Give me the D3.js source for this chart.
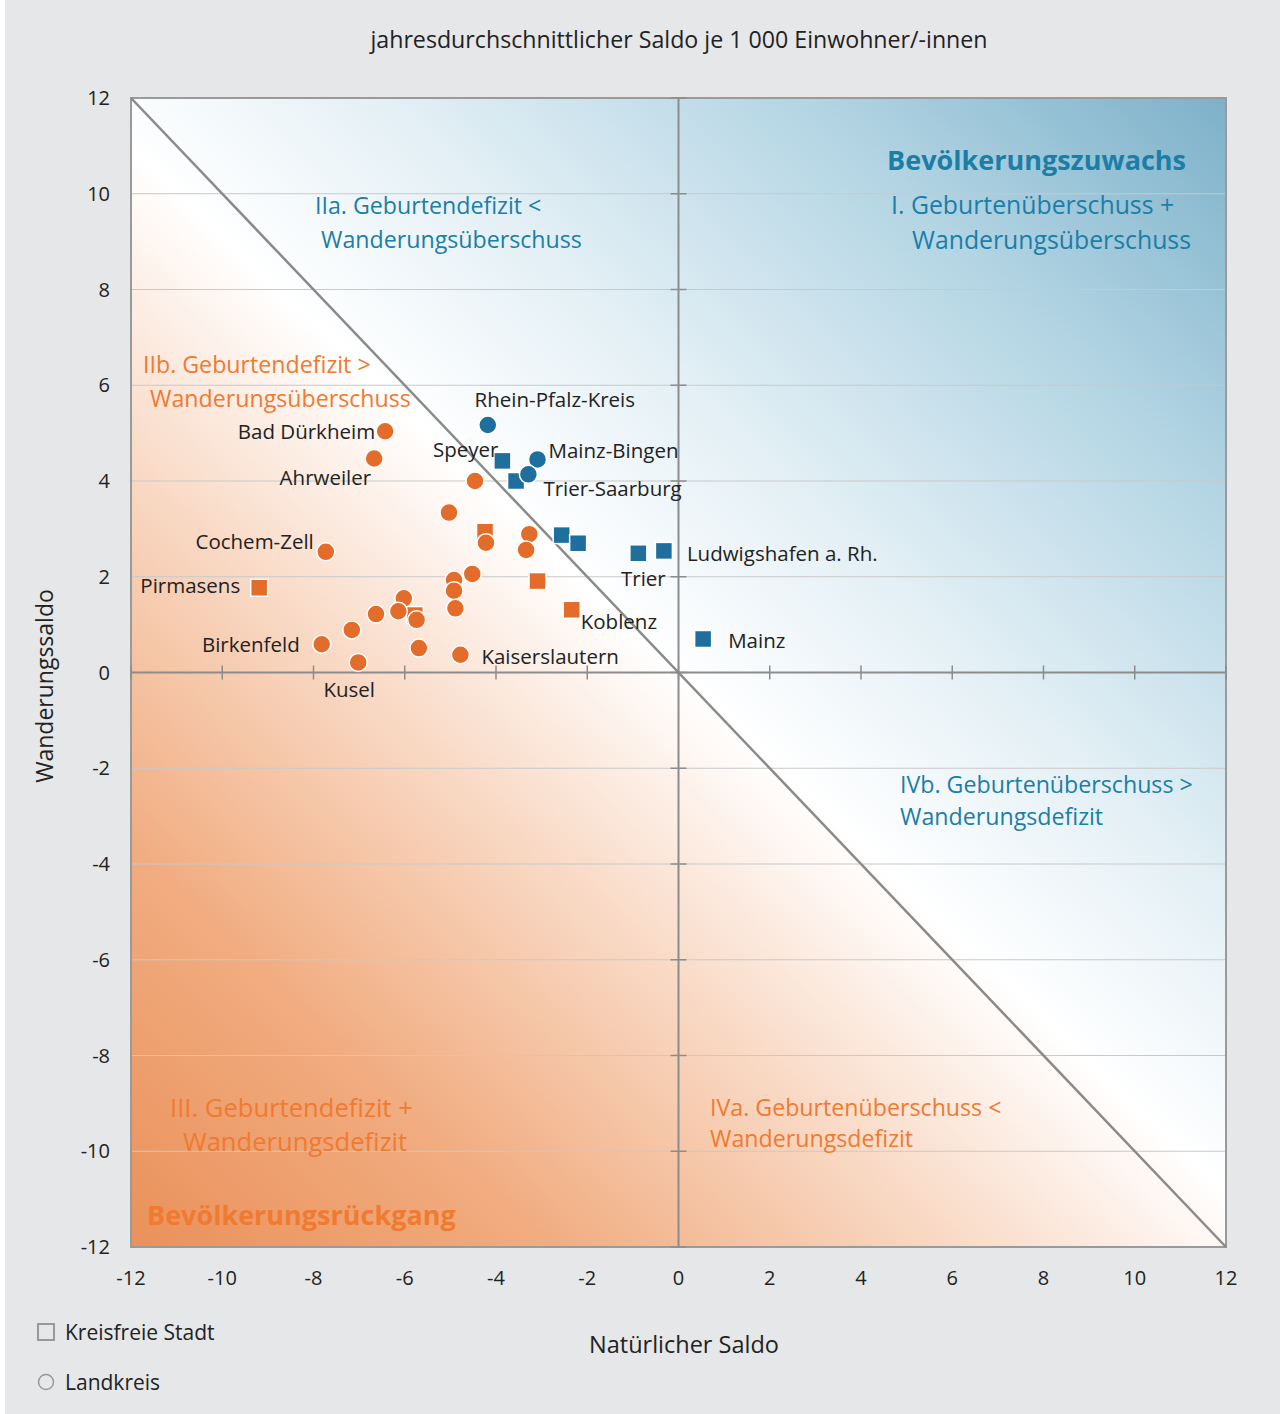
<!DOCTYPE html>
<html>
<head>
<meta charset="utf-8">
<script src="https://cdn.jsdelivr.net/npm/d3@7"></script>
<style>
  body { margin: 0; background: #e6e7e9; }
  text { font-family: "Open Sans", sans-serif; }
</style>
</head>
<body>
<div id="chart"></div>
<script>
// Kreise und kreisfreie Städte: natürlicher Saldo (x) und Wanderungssaldo (y)
var names = [
  "Bad Dürkheim", "Ahrweiler", "", "", "Cochem-Zell", "Pirmasens", "", "", "", "",
  "", "", "", "", "", "", "Birkenfeld", "Kusel", "", "Kaiserslautern",
  "Rhein-Pfalz-Kreis", "Speyer", "Mainz-Bingen", "Trier-Saarburg", "", "", "", "", "",
  "", "Trier", "Ludwigshafen a. Rh.", "", "Koblenz", "Mainz", ""
];
var natSaldo = [
  -6.43, -6.67, -4.46, -5.03, -7.73, -9.19, -4.52, -4.92, -4.92, -4.89,
  -6.02, -6.14, -5.78, -5.74, -6.63, -7.16, -7.82, -7.02, -5.69, -4.78,
  -4.18, -3.86, -3.09, -3.29, -3.56, -4.24, -4.22, -3.27, -3.34,
  -2.56, -0.88, -0.32, -3.09, -2.34, 0.54, -2.20
];
var wandSaldo = [
  5.04, 4.47, 4.00, 3.34, 2.52, 1.77, 2.06, 1.93, 1.71, 1.34,
  1.55, 1.28, 1.20, 1.10, 1.22, 0.89, 0.59, 0.21, 0.51, 0.37,
  5.17, 4.42, 4.45, 4.14, 4.00, 2.94, 2.71, 2.89, 2.56,
  2.87, 2.49, 2.54, 1.91, 1.31, 0.70, 2.70
];
// S = kreisfreie Stadt, L = Landkreis
var typ = [
  "L", "L", "L", "L", "L", "S", "L", "L", "L", "L",
  "L", "L", "S", "L", "L", "L", "L", "L", "L", "L",
  "L", "S", "L", "L", "S", "S", "L", "L", "L",
  "S", "S", "S", "S", "S", "S", "S"
];

var xTicks = [-12, -10, -8, -6, -4, -2, 0, 2, 4, 6, 8, 10, 12];
var yTicks = [-12, -10, -8, -6, -4, -2, 0, 2, 4, 6, 8, 10, 12];

// label placement (dx, dy, anchor)
var labelPos = {
  "Bad Dürkheim": [-10, 8, "end"],
  "Ahrweiler": [-3, 27, "end"],
  "Cochem-Zell": [-12, -3, "end"],
  "Pirmasens": [-19, 5, "end"],
  "Birkenfeld": [-22, 8, "end"],
  "Kusel": [-9, 35, "middle"],
  "Kaiserslautern": [21, 9, "start"],
  "Koblenz": [9, 19, "start"],
  "Trier": [5, 33, "middle"],
  "Ludwigshafen a. Rh.": [23, 10, "start"],
  "Mainz": [25, 9, "start"],
  "Trier-Saarburg": [15, 22, "start"],
  "Mainz-Bingen": [11, -1, "start"],
  "Speyer": [-4, -4, "end"],
  "Rhein-Pfalz-Kreis": [67, -18, "middle"]
};

var orange = "#e36c2b", blue = "#1f6f9e";
var orangeText = "#f07a30", blueText = "#1a7ea8";

var W = 1280, H = 1414;
var pLeft = 131, pRight = 1226, pTop = 98, pBottom = 1247;

var svg = d3.select("#chart").append("svg").attr("width", W).attr("height", H);
svg.append("rect").attr("x", 5).attr("y", 0).attr("width", W - 5).attr("height", H).attr("fill", "#e6e7e9");
svg.append("rect").attr("x", 0).attr("y", 0).attr("width", 5).attr("height", H).attr("fill", "#ffffff");

var x = d3.scaleLinear().domain([-12, 12]).range([pLeft, pRight]);
var y = d3.scaleLinear().domain([-12, 12]).range([pBottom, pTop]);

var defs = svg.append("defs");
var grad = defs.append("linearGradient").attr("id", "bg")
  .attr("gradientUnits", "userSpaceOnUse")
  .attr("x1", pLeft).attr("y1", pBottom).attr("x2", pRight).attr("y2", pTop);
[[0, "#ea915a"], [0.18, "#f1ac80"], [0.36, "#f9dac6"], [0.5, "#ffffff"],
 [0.64, "#e2eff5"], [0.82, "#b2d4e3"], [1, "#7db1c9"]].forEach(function (s) {
  grad.append("stop").attr("offset", s[0]).attr("stop-color", s[1]);
});

svg.append("rect")
  .attr("x", pLeft).attr("y", pTop)
  .attr("width", pRight - pLeft).attr("height", pBottom - pTop)
  .attr("fill", "url(#bg)");

// horizontal grid lines
svg.append("g").selectAll("line").data(yTicks.filter(function (d) { return d != 0; }))
  .enter().append("line")
  .attr("x1", pLeft).attr("x2", pRight)
  .attr("y1", function (d) { return y(d); }).attr("y2", function (d) { return y(d); })
  .attr("stroke", "#c9c9c9").attr("stroke-width", 1);

// frame
svg.append("rect")
  .attr("x", pLeft).attr("y", pTop)
  .attr("width", pRight - pLeft).attr("height", pBottom - pTop)
  .attr("fill", "none").attr("stroke", "#9a9a9a").attr("stroke-width", 2);

// zero axes with ticks
svg.append("line").attr("x1", pLeft).attr("x2", pRight).attr("y1", y(0)).attr("y2", y(0))
  .attr("stroke", "#8c8c8c").attr("stroke-width", 2);
svg.append("line").attr("x1", x(0)).attr("x2", x(0)).attr("y1", pTop).attr("y2", pBottom)
  .attr("stroke", "#8c8c8c").attr("stroke-width", 2);

svg.append("g").selectAll("line").data(xTicks)
  .enter().append("line")
  .attr("x1", function (d) { return x(d); }).attr("x2", function (d) { return x(d); })
  .attr("y1", y(0) - 7).attr("y2", y(0) + 7)
  .attr("stroke", "#8c8c8c").attr("stroke-width", 1.5);
svg.append("g").selectAll("line").data(yTicks)
  .enter().append("line")
  .attr("x1", x(0) - 8).attr("x2", x(0) + 8)
  .attr("y1", function (d) { return y(d); }).attr("y2", function (d) { return y(d); })
  .attr("stroke", "#8c8c8c").attr("stroke-width", 1.5);

// diagonal: natürlicher Saldo + Wanderungssaldo = 0
svg.append("line")
  .attr("x1", x(-12)).attr("y1", y(12)).attr("x2", x(12)).attr("y2", y(-12))
  .attr("stroke", "#8a8a8a").attr("stroke-width", 2.5);

// tick labels
svg.append("g").selectAll("text").data(xTicks)
  .enter().append("text")
  .attr("x", function (d) { return x(d); }).attr("y", 1285)
  .attr("text-anchor", "middle").attr("font-size", 20).attr("fill", "#222")
  .text(function (d) { return d; });
svg.append("g").selectAll("text").data(yTicks)
  .enter().append("text")
  .attr("x", 110).attr("y", function (d) { return y(d) + 7; })
  .attr("text-anchor", "end").attr("font-size", 20).attr("fill", "#222")
  .text(function (d) { return d; });

// titles
svg.append("text").attr("x", 679).attr("y", 48).attr("text-anchor", "middle")
  .attr("font-size", 23.2).attr("fill", "#222")
  .text("jahresdurchschnittlicher Saldo je 1 000 Einwohner/-innen");
svg.append("text").attr("x", 684).attr("y", 1353).attr("text-anchor", "middle")
  .attr("font-size", 23.5).attr("fill", "#222").text("Natürlicher Saldo");
svg.append("text").attr("transform", "translate(53,686) rotate(-90)").attr("text-anchor", "middle")
  .attr("font-size", 23).attr("fill", "#222").text("Wanderungssaldo");

// quadrant annotations
var q = 23.2;
var notes = [
  [1186, 170, "end", "Bevölkerungszuwachs", blueText, 27, "bold"],
  [891, 214, "start", "I. Geburtenüberschuss +", blueText, 24.8, "normal"],
  [912, 249, "start", "Wanderungsüberschuss", blueText, 24.8, "normal"],
  [315, 214, "start", "IIa. Geburtendefizit <", blueText, q, "normal"],
  [321, 248, "start", "Wanderungsüberschuss", blueText, q, "normal"],
  [143, 373, "start", "IIb. Geburtendefizit >", orangeText, q, "normal"],
  [150, 407, "start", "Wanderungsüberschuss", orangeText, q, "normal"],
  [900, 793, "start", "IVb. Geburtenüberschuss >", blueText, q, "normal"],
  [900, 825, "start", "Wanderungsdefizit", blueText, q, "normal"],
  [170, 1117, "start", "III. Geburtendefizit +", orangeText, 25.6, "normal"],
  [183, 1151, "start", "Wanderungsdefizit", orangeText, 25.6, "normal"],
  [710, 1116, "start", "IVa. Geburtenüberschuss <", orangeText, q, "normal"],
  [710, 1147, "start", "Wanderungsdefizit", orangeText, q, "normal"],
  [147, 1225, "start", "Bevölkerungsrückgang", orangeText, 27, "bold"]
];
svg.append("g").selectAll("text").data(notes)
  .enter().append("text")
  .attr("x", function (d) { return d[0]; }).attr("y", function (d) { return d[1]; })
  .attr("text-anchor", function (d) { return d[2]; })
  .attr("fill", function (d) { return d[4]; })
  .attr("font-size", function (d) { return d[5]; })
  .attr("font-weight", function (d) { return d[6]; })
  .text(function (d) { return d[3]; });

// points
var pts = natSaldo.map(function (v, i) {
  return { name: names[i], nx: v, wy: wandSaldo[i], typ: typ[i] };
});
function col(d) { return d.nx + d.wy > 0 ? blue : orange; }

var sq = 17;
svg.append("g").selectAll("rect").data(pts.filter(function (d) { return d.typ == "S"; }))
  .enter().append("rect")
  .attr("x", function (d) { return x(d.nx) - sq / 2; })
  .attr("y", function (d) { return y(d.wy) - sq / 2; })
  .attr("width", sq).attr("height", sq)
  .attr("fill", col).attr("stroke", "#ffffff").attr("stroke-width", 1.5);

svg.append("g").selectAll("circle").data(pts.filter(function (d) { return d.typ == "L"; }))
  .enter().append("circle")
  .attr("cx", function (d) { return x(d.nx); })
  .attr("cy", function (d) { return y(d.wy); })
  .attr("r", 9)
  .attr("fill", col).attr("stroke", "#ffffff").attr("stroke-width", 1.5);

// point labels
svg.append("g").selectAll("text").data(pts.filter(function (d) { return labelPos[d.name]; }))
  .enter().append("text")
  .attr("x", function (d) { return x(d.nx) + labelPos[d.name][0]; })
  .attr("y", function (d) { return y(d.wy) + labelPos[d.name][1]; })
  .attr("text-anchor", function (d) { return labelPos[d.name][2]; })
  .attr("font-size", 20.5).attr("fill", "#222")
  .text(function (d) { return d.name; });

// legend
svg.append("rect").attr("x", 38).attr("y", 1324).attr("width", 16).attr("height", 16)
  .attr("fill", "none").attr("stroke", "#999").attr("stroke-width", 2);
svg.append("text").attr("x", 65).attr("y", 1340).attr("font-size", 21).attr("fill", "#222")
  .text("Kreisfreie Stadt");
svg.append("circle").attr("cx", 46).attr("cy", 1382).attr("r", 7.5)
  .attr("fill", "none").attr("stroke", "#999").attr("stroke-width", 1.5);
svg.append("text").attr("x", 65).attr("y", 1390).attr("font-size", 21).attr("fill", "#222")
  .text("Landkreis");
</script>
</body>
</html>
